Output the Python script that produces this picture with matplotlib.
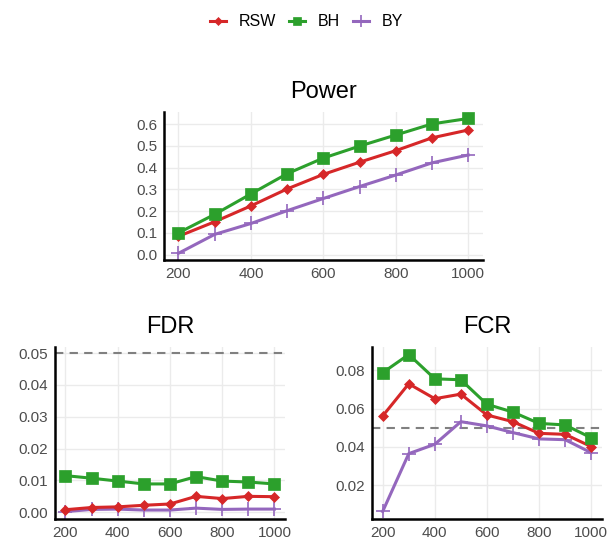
import matplotlib
matplotlib.use("Agg")
import matplotlib.pyplot as plt
from matplotlib.lines import Line2D
from matplotlib.ticker import FormatStrFormatter

plt.rcParams['font.family'] = ['Liberation Sans', 'DejaVu Sans']

# sample sizes on the x axis
n_values = [200, 300, 400, 500, 600, 700, 800, 900, 1000]

# Power
power_rsw = [0.084, 0.151, 0.224, 0.302, 0.369, 0.425, 0.478, 0.537, 0.573]
power_bh = [0.100, 0.185, 0.279, 0.372, 0.444, 0.499, 0.550, 0.601, 0.626]
power_by = [0.006, 0.093, 0.143, 0.202, 0.258, 0.313, 0.366, 0.422, 0.458]

# FDR
fdr_rsw = [0.0008, 0.0015, 0.0017, 0.0022, 0.0026, 0.0050, 0.0043, 0.0050, 0.0049]
fdr_bh = [0.0115, 0.0107, 0.0098, 0.0089, 0.0089, 0.0112, 0.0098, 0.0095, 0.0089]
fdr_by = [0.0002, 0.0009, 0.0010, 0.0007, 0.0007, 0.0013, 0.0009, 0.0010, 0.0010]

# FCR
fcr_rsw = [0.0562, 0.0730, 0.0652, 0.0676, 0.0567, 0.0532, 0.0471, 0.0466, 0.0402]
fcr_bh = [0.0788, 0.0883, 0.0756, 0.0751, 0.0623, 0.0582, 0.0523, 0.0515, 0.0448]
fcr_by = [0.0063, 0.0365, 0.0414, 0.0532, 0.0510, 0.0475, 0.0442, 0.0438, 0.0370]

target_level = 0.05

methods = ["RSW", "BH", "BY"]
colors = {"RSW": "#d62728", "BH": "#2ca02c", "BY": "#9467bd"}
markers = {"RSW": "D", "BH": "s", "BY": "+"}
msizes = {"RSW": 5.5, "BH": 8, "BY": 10}

fig = plt.figure(figsize=(6.13, 5.48), dpi=100)

ax_pow = fig.add_axes([0.2675, 0.5255, 0.520, 0.2706])
ax_fdr = fig.add_axes([0.0897, 0.0524, 0.375, 0.315])
ax_fcr = fig.add_axes([0.6073, 0.0524, 0.374, 0.315])


def draw_series(ax, series):
    for m in methods:
        ax.plot(n_values, series[m], color=colors[m], marker=markers[m],
                markersize=msizes[m], markeredgewidth=1.2 if m == "BY" else 0.5,
                linewidth=2.2, zorder=3 if m != "BY" else 2.5)


def style(ax, title):
    ax.set_title(title, fontsize=17, pad=10)
    for s in ("top", "right"):
        ax.spines[s].set_visible(False)
    for s in ("left", "bottom"):
        ax.spines[s].set_linewidth(1.8)
        ax.spines[s].set_color("black")
    ax.grid(True, color="#ebebeb", linewidth=1.0, zorder=0)
    ax.set_axisbelow(True)
    ax.tick_params(length=0, labelsize=11, labelcolor="#4d4d4d", pad=5)
    ax.set_xticks([200, 400, 600, 800, 1000])


draw_series(ax_pow, {"RSW": power_rsw, "BH": power_bh, "BY": power_by})
style(ax_pow, "Power")
ax_pow.set_yticks([0.0, 0.1, 0.2, 0.3, 0.4, 0.5, 0.6])
ax_pow.yaxis.set_major_formatter(FormatStrFormatter('%.1f'))

draw_series(ax_fdr, {"RSW": fdr_rsw, "BH": fdr_bh, "BY": fdr_by})
ax_fdr.axhline(target_level, color="#808080", linestyle=(0, (4, 3)), linewidth=1.5, zorder=2)
style(ax_fdr, "FDR")
ax_fdr.set_ylim(-0.0022, 0.052)
ax_fdr.set_yticks([0.0, 0.01, 0.02, 0.03, 0.04, 0.05])
ax_fdr.yaxis.set_major_formatter(FormatStrFormatter('%.2f'))

draw_series(ax_fcr, {"RSW": fcr_rsw, "BH": fcr_bh, "BY": fcr_by})
ax_fcr.axhline(target_level, color="#808080", linestyle=(0, (4, 3)), linewidth=1.5, zorder=2)
style(ax_fcr, "FCR")
ax_fcr.set_yticks([0.02, 0.04, 0.06, 0.08])
ax_fcr.yaxis.set_major_formatter(FormatStrFormatter('%.2f'))

for ax in (ax_pow, ax_fdr, ax_fcr):
    ax.set_xlim(160, 1040)

handles = [Line2D([], [], color=colors[m], marker=markers[m], markersize=msizes[m] * 0.8,
                  markeredgewidth=1.2 if m == "BY" else 0.5, linewidth=2.2)
           for m in methods]
fig.legend(handles, methods, loc="upper center", bbox_to_anchor=(0.5, 1.0), ncol=3,
           frameon=False, fontsize=11.5, handlelength=1.0, handletextpad=0.8,
           columnspacing=0.8)

fig.savefig("out.png", dpi=100)
